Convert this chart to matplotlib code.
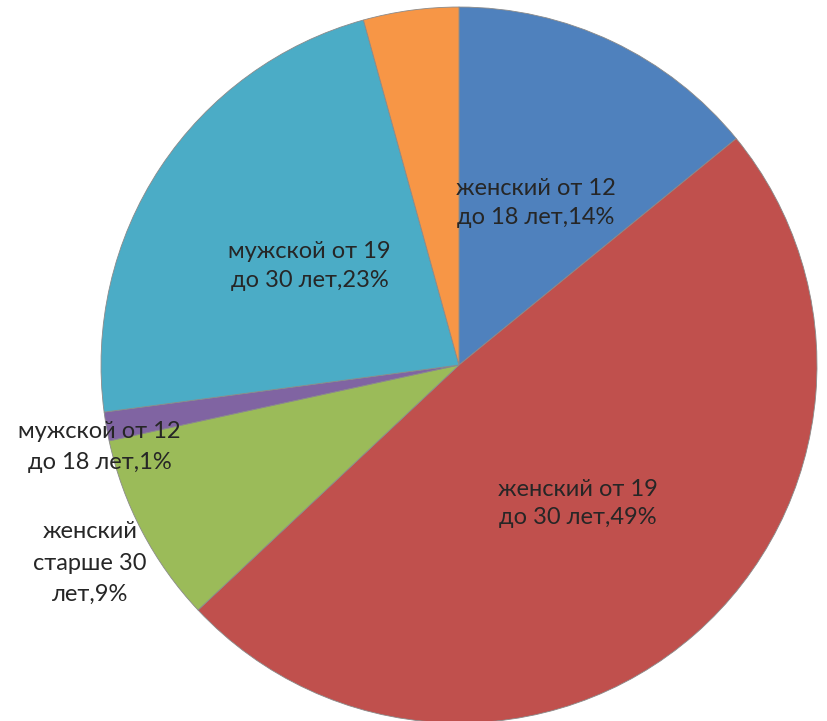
import numpy as np
from matplotlib import pyplot as plt

# shares by group, clockwise from the top
names = ["женский от 12\nдо 18 лет",
         "женский от 19\nдо 30 лет",
         "женский\nстарше 30\nлет",
         "мужской от 12\nдо 18 лет",
         "мужской от 19\nдо 30 лет",
         "мужской старше 30 лет"]
shares = [14.1, 48.9, 8.6, 1.3, 22.8, 4.3]
colors = ["#4F81BD", "#C0504D", "#9BBB59", "#8064A2", "#4BACC6", "#F79646"]
label_r = [0.5, 0.51, 1.17, 1.03, 0.5, None]   # None -> no label shown
label_shift = [0, -0.5, 0.5, 3.0, 0, 0]          # degrees, nudge along the arc

plt.rcParams['font.family'] = ['Lato', 'DejaVu Sans']

fig = plt.figure(figsize=(8.28, 7.21), dpi=100)
ax = fig.add_axes([0.1220, -0.0028, 0.8647, 0.9931])
wedges, _ = ax.pie(shares, colors=colors, startangle=90, counterclock=False,
                   radius=1.0, wedgeprops=dict(linewidth=0.6, edgecolor="#8a8a8a"))
ax.set_xlim(-1, 1)
ax.set_ylim(-1, 1)
ax.set_aspect("equal")
ax.axis("off")

total = sum(shares)
for w, name, v, r, sh in zip(wedges, names, shares, label_r, label_shift):
    if r is None:
        continue
    mid = np.deg2rad((w.theta1 + w.theta2) / 2 + sh)
    pct = round(v / total * 100)
    ls = 1.45 if r < 1 else 1.6
    ax.text(r * np.cos(mid), r * np.sin(mid), "{},{}%".format(name, pct),
            ha="center", va="center", fontsize=17, color="#262626",
            linespacing=ls)

fig.savefig("out.png", dpi=100)
